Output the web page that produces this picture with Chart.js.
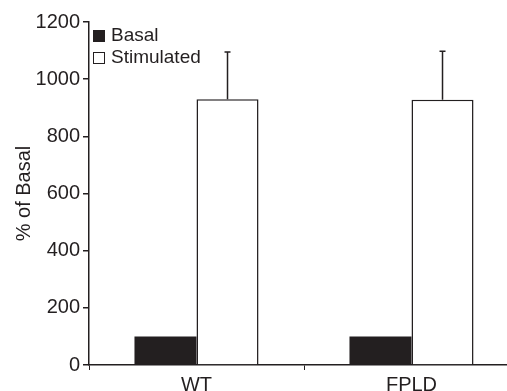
<!DOCTYPE html>
<html>
<head>
<meta charset="utf-8">
<script src="https://cdn.jsdelivr.net/npm/chart.js@4.4.1/dist/chart.umd.min.js"></script>
<style>
  html, body { margin: 0; padding: 0; background: #fff; overflow: hidden; }
  #wrap { width: 507px; height: 391px; overflow: hidden; }
  #box { width: 525px; height: 391px; }
</style>
</head>
<body>
<div id="wrap"><div id="box"><canvas id="chart"></canvas></div></div>
<script>
// data
const groups = ["WT", "FPLD"];
const basal = [100, 100];
const stimulated = [930, 928];
const stimulatedErr = [165, 170]; // upper error above the bar
const yTicks = [0, 200, 400, 600, 800, 1000, 1200];

const ink = "#231f20";
const fontFamily = "'Liberation Sans', Arial, sans-serif";

// error bars on top of the stimulated bars
const errorBars = {
  id: "errorBars",
  afterDatasetsDraw(chart) {
    const ctx = chart.ctx;
    const y = chart.scales.y;
    const meta = chart.getDatasetMeta(1);
    ctx.save();
    ctx.strokeStyle = ink;
    ctx.lineWidth = 1.5;
    meta.data.forEach((bar, i) => {
      const top = y.getPixelForValue(stimulated[i] + stimulatedErr[i]);
      ctx.beginPath();
      ctx.moveTo(bar.x, bar.y);
      ctx.lineTo(bar.x, top);
      ctx.moveTo(bar.x - 3, top);
      ctx.lineTo(bar.x + 3, top);
      ctx.stroke();
    });
    ctx.restore();
  },
};

// small legend inside the plot, top-left
const innerLegend = {
  id: "innerLegend",
  afterDraw(chart) {
    const ctx = chart.ctx;
    const area = chart.chartArea;
    ctx.save();
    ctx.font = "19px " + fontFamily;
    ctx.textBaseline = "middle";
    chart.data.datasets.forEach((ds, i) => {
      const x = area.left + 4;
      const yc = area.top + 14 + i * 22;
      ctx.fillStyle = ds.backgroundColor;
      ctx.fillRect(x, yc - 6, 12, 12);
      ctx.strokeStyle = ink;
      ctx.lineWidth = 1;
      ctx.strokeRect(x + 0.5, yc - 5.5, 11, 11);
      ctx.fillStyle = ink;
      ctx.fillText(ds.label, x + 18, yc);
    });
    ctx.restore();
  },
};

new Chart(document.getElementById("chart"), {
  type: "bar",
  data: {
    labels: groups,
    datasets: [
      {
        label: "Basal",
        data: basal,
        backgroundColor: ink,
        borderColor: ink,
        borderWidth: 0,
      },
      {
        label: "Stimulated",
        data: stimulated,
        backgroundColor: "#ffffff",
        borderColor: ink,
        borderWidth: 1.5,
      },
    ],
  },
  options: {
    responsive: true,
    maintainAspectRatio: false,
    animation: false,
    layout: { padding: { top: 22, right: 6, left: 0, bottom: 0 } },
    datasets: { bar: { barPercentage: 1, categoryPercentage: 0.577 } },
    plugins: {
      legend: { display: false },
      tooltip: { enabled: false },
    },
    scales: {
      x: {
        grid: { drawOnChartArea: false, tickLength: 5, color: ink, lineWidth: 1 },
        border: { color: ink, width: 1.5 },
        ticks: { color: ink, font: { family: fontFamily, size: 20 }, padding: 3 },
        afterFit(scale) { scale.height = 26; },
      },
      y: {
        min: 0,
        max: 1200,
        afterBuildTicks(scale) { scale.ticks = yTicks.map((v) => ({ value: v })); },
        grid: { drawOnChartArea: false, tickLength: 6, color: ink, lineWidth: 1.5 },
        border: { color: ink, width: 1.5 },
        ticks: {
          color: ink,
          font: { family: fontFamily, size: 20 },
          padding: 3,
          callback: (v) => String(v),
        },
        title: {
          display: true,
          text: "% of Basal",
          color: ink,
          font: { family: fontFamily, size: 20 },
          padding: { top: 12, bottom: 0 },
        },
        afterFit(scale) { scale.width = 89; },
      },
    },
  },
  plugins: [errorBars, innerLegend],
});
</script>
</body>
</html>
